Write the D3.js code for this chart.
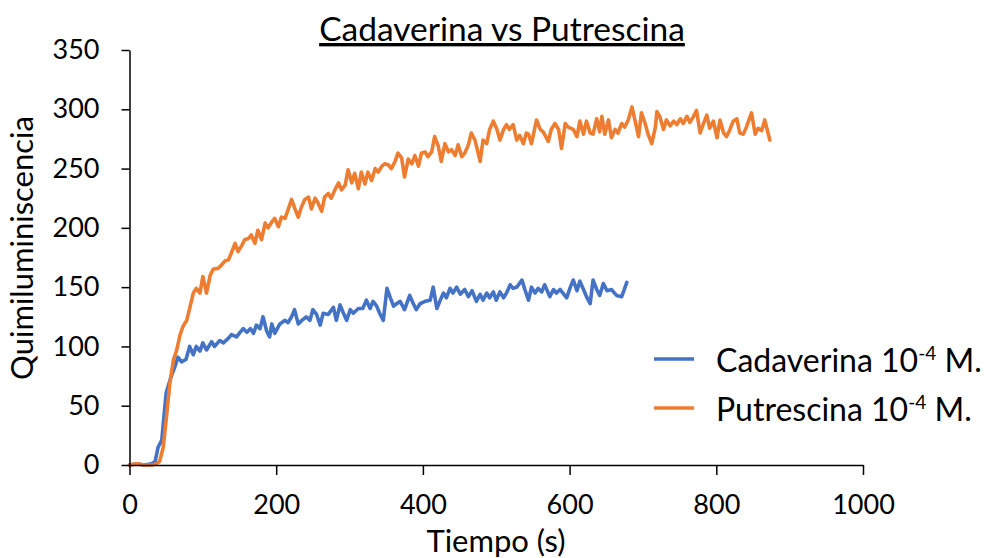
<!DOCTYPE html>
<html>
<head>
<meta charset="utf-8">
<script src="https://cdn.jsdelivr.net/npm/d3@7"></script>
<style>
  body { margin: 0; background: #fff; }
  svg { display: block; font-family: Lato, "Open Sans", sans-serif; }
</style>
</head>
<body>
<svg id="chart" width="992" height="558"></svg>
<script>
// Cadaverina 10-4 M. (blue)
var cadTime = [0,10,20,30,35,39,44,50,57,62,66,71,77,82,87,91,96,100,105,112,116,123,128,135,139,146,151,155,160,165,169,173,178,182,187,191,194,198,205,212,216,221,225,230,235,241,246,250,255,260,264,271,278,282,287,291,296,301,305,312,318,323,328,332,337,341,346,351,355,360,364,369,375,382,387,391,396,403,410,414,419,423,428,432,437,441,446,451,457,462,467,473,478,482,487,491,496,500,505,510,514,519,523,528,535,539,544,548,553,557,562,566,573,578,582,587,591,596,601,605,610,614,619,623,628,632,637,641,646,651,657,664,671,674,678];
var cadValues = [0,1,0,1,3,15,21,61,75,83,91,87,89,100,93,100,96,103,97,104,100,105,103,107,110,108,112,115,112,115,111,118,115,125,113,108,119,111,119,122,120,125,131,119,122,125,122,131,127,118,128,127,133,122,135,129,122,131,128,132,132,139,132,138,134,128,122,149,142,134,136,138,131,143,136,131,136,138,139,150,132,138,145,141,149,145,150,144,148,142,147,138,144,139,145,141,146,139,146,141,145,152,149,150,156,148,139,150,145,149,146,152,142,148,145,148,145,141,150,156,147,155,148,142,136,156,148,143,153,147,148,143,142,147,154];

// Putrescina 10-4 M. (orange)
var putTime = [0,10,20,30,37,41,46,50,55,60,64,69,73,78,82,87,91,96,100,105,110,114,121,126,130,135,139,144,148,153,157,162,166,171,175,180,185,189,194,198,203,207,212,216,221,225,230,234,239,244,248,253,257,262,266,271,275,280,285,289,294,298,303,307,312,316,321,325,330,335,339,344,348,353,357,362,366,371,375,380,385,389,394,398,403,407,412,416,421,425,430,435,439,444,448,453,457,462,466,471,475,478,482,487,491,496,501,505,510,514,518,523,528,532,537,541,544,548,555,560,564,571,575,580,585,589,594,598,605,610,614,619,623,628,632,637,641,644,648,653,657,662,666,671,675,680,685,689,694,698,703,707,712,717,719,723,728,732,737,742,746,751,755,760,764,769,773,778,782,787,791,796,801,805,810,814,818,823,828,832,837,841,848,853,857,862,866,871,873];
var putValues = [0,1,0,0,1,3,15,38,69,89,96,110,117,122,132,145,149,145,159,145,160,165,166,169,172,173,179,187,180,185,190,191,194,187,198,190,204,200,205,208,201,209,208,215,224,217,209,217,224,226,216,225,221,214,226,229,225,232,238,232,236,249,238,246,233,247,237,247,240,250,247,252,254,253,250,256,263,259,243,258,254,261,252,263,264,260,264,277,269,256,271,264,266,261,270,260,263,270,280,274,264,256,274,271,283,290,283,274,283,287,283,287,274,278,271,280,279,271,291,283,281,273,283,288,283,267,288,285,283,277,290,279,290,280,279,292,281,294,279,291,276,283,280,288,285,291,302,291,277,297,288,279,271,285,298,294,283,291,286,290,287,292,288,294,289,294,299,280,287,295,284,290,276,291,280,277,282,290,292,280,279,285,297,279,284,282,291,279,274];

var xTicks = [0, 200, 400, 600, 800, 1000];
var yTicks = [0, 50, 100, 150, 200, 250, 300, 350];

var series = [
    { name: "Cadaverina", time: cadTime, values: cadValues, color: "#4472C4" },
    { name: "Putrescina", time: putTime, values: putValues, color: "#ED7D31" }
];

var svg = d3.select("#chart");

var x = d3.scaleLinear().domain([0, 1000]).range([129.5, 863]);
var y = d3.scaleLinear().domain([0, 350]).range([465, 50]);

var xAxis = d3.axisBottom(x).tickValues(xTicks).tickFormat(d3.format("d"))
    .tickSize(10).tickSizeOuter(0).tickPadding(20);
var yAxis = d3.axisLeft(y).tickValues(yTicks).tickFormat(d3.format("d"))
    .tickSize(8).tickSizeOuter(0).tickPadding(22);

var line = d3.line()
    .x(function (d) { return x(d[0]); })
    .y(function (d) { return y(d[1]); });

// lines first, axes on top like Excel does
series.forEach(function (s) {
    var pts = s.time.map(function (t, i) { return [t, s.values[i]]; });
    svg.append("path")
        .attr("d", line(pts))
        .attr("fill", "none")
        .attr("stroke", s.color)
        .attr("stroke-width", 3.6)
        .attr("stroke-linejoin", "round")
        .attr("stroke-linecap", "round");
});

var gx = svg.append("g")
    .attr("transform", "translate(0, 465)")
    .call(xAxis);
var gy = svg.append("g")
    .attr("transform", "translate(129.5, 0)")
    .call(yAxis);

[gx, gy].forEach(function (g) {
    g.selectAll("path, line").attr("stroke", "#000").attr("stroke-width", 1.5);
    g.selectAll("text")
        .attr("fill", "#000")
        .style("font-family", "Lato, sans-serif")
        .style("font-size", "27px");
});

// title
svg.append("text")
    .attr("x", 502)
    .attr("y", 41)
    .attr("text-anchor", "middle")
    .style("font-size", "33.5px")
    .style("text-decoration", "underline")
    .text("Cadaverina vs Putrescina");

// axis titles
svg.append("text")
    .attr("x", 496)
    .attr("y", 552)
    .attr("text-anchor", "middle")
    .style("font-size", "31px")
    .text("Tiempo (s)");

svg.append("text")
    .attr("transform", "translate(33, 248) rotate(-90)")
    .attr("text-anchor", "middle")
    .style("font-size", "31px")
    .text("Quimiluminiscencia");

// legend
var legend = svg.append("g");
series.forEach(function (s, i) {
    var ly = 359 + i * 49;
    legend.append("line")
        .attr("x1", 654).attr("x2", 694)
        .attr("y1", ly).attr("y2", ly)
        .attr("stroke", s.color)
        .attr("stroke-width", 3.6);
    var t = legend.append("text")
        .attr("x", 716)
        .attr("y", ly + 13)
        .style("font-size", "32px");
    t.append("tspan").text(s.name + " 10");
    t.append("tspan").attr("dy", -12).style("font-size", "19px").text("-4");
    t.append("tspan").attr("dy", 12).text(" M.");
});
</script>
</body>
</html>
